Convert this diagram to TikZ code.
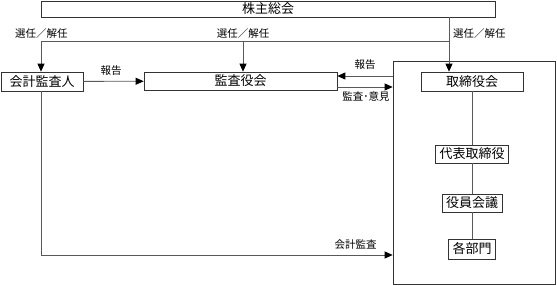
\documentclass[tikz,border=0pt]{standalone}
\usepackage{fontspec}
\setmainfont{Noto Sans CJK JP}
\usetikzlibrary{arrows.meta}

\begin{document}
\begin{tikzpicture}[x=1pt,y=-1pt,
		box/.style={draw=black!80,line width=0.7pt,inner xsep=4pt,inner ysep=0pt,minimum height=18pt,font=\fontsize{13}{13}\selectfont},
		lbl/.style={inner sep=0pt,font=\fontsize{10.5}{10.5}\selectfont},
		link/.style={draw=black!65,line width=0.8pt},
		arr/.style={link,-{Triangle[length=8pt,width=7pt,color=black]}}]
	\useasboundingbox (0,0) rectangle (557,285);
	% boxes
	\node[box,minimum width=454pt,minimum height=16pt] (kabu) at (268,9) {株主総会};
	\node[box,minimum width=82pt,minimum height=19pt] (kaikei) at (42,81.5) {会計監査人};
	\node[box,minimum width=193pt] (kansa) at (240.5,81) {監査役会};
	\node[box,minimum width=162pt,minimum height=223pt] (grp) at (474,172.5) {};
	\node[box,minimum width=102pt,minimum height=19pt] (tori) at (472,81.5) {取締役会};
	\node[box] (dai) at (472,154) {代表取締役};
	\node[box] (yaku) at (472,203) {役員会議};
	\node[box,minimum height=20pt] (kaku) at (472,249) {各部門};
	% election lines
	\coordinate (jl) at (41,41);
	\coordinate (jm) at (243,41);
	\coordinate (jr) at (449,41);
	\draw[arr] (kabu.south -| jr) -- (tori.north -| jr);
	\draw[link] (jr) -- (jl);
	\draw[arr] (jl) -- (kaikei.north -| jl);
	\draw[arr] (jm) -- (kansa.north -| jm);
	\node[lbl] (sl) at (41.5,34) {選任／解任};
	\node[lbl] (sm) at (243,34) {選任／解任};
	\node[lbl,anchor=west] (sr) at (453,34) {選任／解任};
	% reports and audits
	\draw[arr] (kaikei) -- (kansa);
	\node[lbl] (h1) at (111,71) {報告};
	\coordinate (r1) at ([yshift=5pt]kansa.east);
	\coordinate (r2) at ([yshift=-6pt]kansa.east);
	\draw[arr] (r1 -| grp.west) -- (r1);
	\draw[arr] (r2) -- (r2 -| grp.west);
	\node[lbl] (h2) at (365,65) {報告};
	\node[lbl] (ki) at (366,97) {監査･意見};
	\coordinate (ka) at (0,255);
	\draw[arr] (kaikei.south -| jl) -- (jl |- ka) -- (grp.west |- ka);
	\node[lbl] (kk) at (355.5,245) {会計監査};
	% board chain
	\draw[link] (tori) -- (dai) -- (yaku) -- (kaku);
\end{tikzpicture}
\end{document}
